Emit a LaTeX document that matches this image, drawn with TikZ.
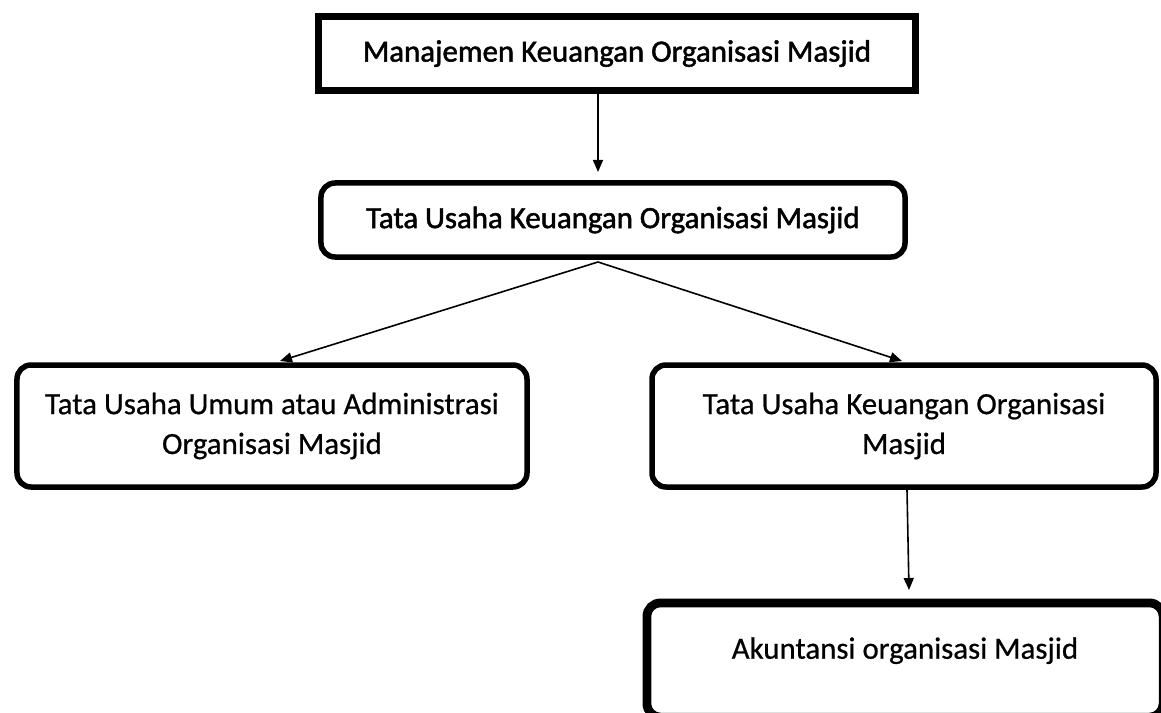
\documentclass[tikz,border=0pt]{standalone}
\usepackage{fontspec}
\setmainfont{Carlito}[FakeBold=0.6]
\newfontfamily\headfont{Carlito}[FakeBold=1.6]
\usetikzlibrary{arrows.meta}
\begin{document}
\begin{tikzpicture}[x=1bp,y=-1bp,
  box/.style={draw=black,line width=5.5bp,fill=white,align=center,inner sep=0pt,
    font=\fontsize{31}{40}\selectfont},
  headbox/.style={box,font=\fontsize{31}{40}\selectfont\headfont},
  roundbox/.style={box,rounded corners=14bp},
  link/.style={line width=1.6bp,-{Triangle[length=12bp,width=10bp]}}]
\useasboundingbox (0,0) rectangle (1161,713);
\clip (0,0) rectangle (1161,713);

% boxes
\node[headbox,line width=7bp,minimum width=597bp,minimum height=74bp] (mgmt) at (617,53.5)
  {Manajemen Keuangan Organisasi Masjid};
\node[headbox,rounded corners=14bp,minimum width=584bp,minimum height=74bp] (tu) at (613,220)
  {Tata Usaha Keuangan Organisasi Masjid};
\node[roundbox,minimum width=510bp,minimum height=122bp] (umum) at (272,426)
  {Tata Usaha Umum atau Administrasi\\Organisasi Masjid};
\node[roundbox,minimum width=504bp,minimum height=122bp] (keu) at (904,426)
  {Tata Usaha Keuangan Organisasi\\Masjid};
\node[roundbox,line width=8bp,minimum width=517bp,minimum height=115bp,
      text depth=24bp] (akun) at (905,660)
  {Akuntansi organisasi Masjid};
\draw[line width=1.5bp,rounded corners=10bp]
  ([shift={(8bp,-8bp)}]akun.north west) rectangle ([shift={(-8bp,8bp)}]akun.south east);

% connectors
\coordinate (split) at (598,262);
\draw[link] (mgmt.south -| 598,0) -- (598,172);
\draw[link] (split) -- (280,361);
\draw[link] (split) -- (902,361);
\draw[link] (keu.south -| 907,0) -- (909,590);
\end{tikzpicture}
\end{document}
